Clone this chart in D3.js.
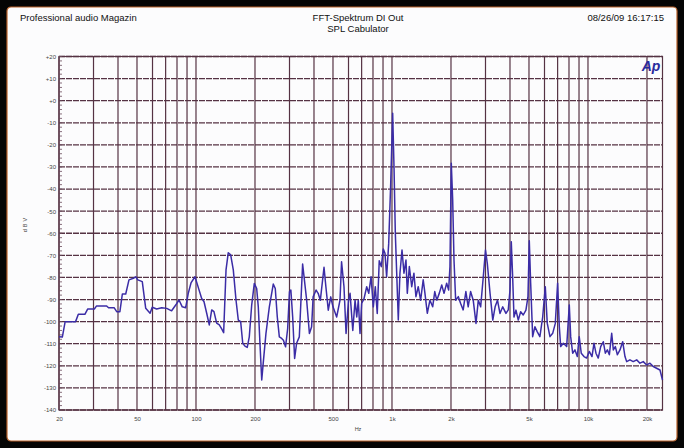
<!DOCTYPE html>
<html>
<head>
<meta charset="utf-8">
<script src="https://cdn.jsdelivr.net/npm/d3@7"></script>
<style>
  html, body { margin: 0; padding: 0; background: #050505; }
  svg { display: block; }
  text { font-family: "Liberation Sans", Arial, sans-serif; }
</style>
</head>
<body>
<div id="app"></div>
<script>
// spectrum: frequency (Hz) and level (dB)
let freqHz = [20, 20.8, 21.5, 24.3, 25.1, 27.1, 28.0, 30.3, 31.1, 35.0, 35.8, 38.2, 39.4, 40.9, 42.1, 43.8,
  45.5, 47.9, 49.2, 50.5, 53.2, 55.4, 58.3, 59.8, 63.0, 66.9, 70.9, 75.1, 78.8, 81.9, 85.1, 88.6,
  91.3, 94.3, 98.8, 102.7, 106.9, 109.9, 113.4, 116.9, 120.3, 123.5, 127.5, 131.5, 135.7, 138.4,
  142.3, 146.1, 150.3, 155.0, 160.0, 164.4, 169.0, 173.2, 177.8, 182.6, 187.0, 192.4, 198.4, 204,
  207.9, 212, 216.5, 220.3, 227.5, 236.7, 247.9, 253.8, 259.9, 266.2, 273.7, 279.3, 286.4, 293.6,
  299.9, 304.8, 311.4, 318.6, 326.1, 336.6, 350, 367, 379, 389, 396, 410, 420, 431, 450, 460, 473,
  487, 500, 522, 543, 553, 569, 583, 600, 611, 631, 648, 661, 673, 687, 700, 720, 743, 761, 782,
  803, 822, 841, 861, 882, 903, 921, 939, 962, 985, 1008, 1024, 1040, 1057, 1077, 1098, 1125, 1151,
  1179, 1197, 1226, 1261, 1294, 1325, 1361, 1400, 1443, 1473, 1514, 1562, 1613, 1653, 1693, 1744,
  1794, 1843, 1901, 1946, 1976, 2007, 2040, 2072, 2113, 2180, 2238, 2308, 2382, 2448, 2518, 2597,
  2683, 2757, 2834, 2923, 3000, 3064, 3165, 3268, 3359, 3453, 3556, 3673, 3815, 3920, 4000, 4061,
  4127, 4192, 4291, 4409, 4534, 4674, 4824, 4941, 5018, 5100, 5221, 5363, 5505, 5683, 5874, 6056,
  6198, 6399, 6606, 6812, 7000, 7141, 7257, 7485, 7785, 8028, 8160, 8355, 8582, 8822, 9021, 9241,
  9541, 9848, 10154, 10481, 10731, 10984, 11282, 11610, 11971, 12260, 12555, 12857, 13213, 13469,
  13793, 14124, 14561, 15033, 15446, 15753, 16370, 17020, 17722, 18423, 19140, 19930, 20718, 21537,
  22392, 23300, 24000];

let levelDb = [-106.8, -107, -100, -100, -96.7, -96.7, -94.3, -94.3, -92.9, -92.9, -93.7, -93.7, -95.5, -95.5, -87.5, -87.5,
  -81.1, -80.4, -79.7, -81.1, -81.9, -94.0, -96.2, -93.5, -94.3, -93.7, -94.0, -95.1, -92.5, -90.2, -93.3, -93.7,
  -87.2, -82.5, -79.7, -84.5, -89.5, -91.0, -96.2, -101.5, -94.7, -95.5, -100.7, -101.5, -103.5, -105.0,
  -76.6, -68.8, -69.8, -76.6, -90.2, -99.3, -100, -109.8, -111.1, -111.7, -106.9, -92.5, -82.7, -85.0,
  -93.3, -109.8, -126.4, -118.8, -105.3, -93.3, -83.0, -85.0, -97.9, -106.9, -107.6, -108.4, -111.4, -103.1,
  -86.5, -85.7, -97.9, -116.7, -109.8, -106.9, -73.9, -90.3, -105.4, -102.3, -88.8, -85.7, -87.2, -90.3, -75.4, -84.2, -94.8,
  -88.8, -93.3, -97.9, -90.3, -72.9, -84.2, -105.4, -90.3, -87.2, -104.0, -90.3, -97.9, -90.3, -105.4, -91.8, -89.6, -84.2, -87.2, -79.7,
  -93.3, -84.2, -96.3, -72.4, -75.1, -67.1, -69.1, -79.7, -64.7, -37.6, -5.7, -29.9, -60, -78.1, -99.3, -78.1, -67.6, -78.1,
  -72.1, -87.2, -75.1, -84.2, -78.1, -88.7, -84.2, -90.3, -81.1, -87.2, -96.2, -90.3, -93.3, -86.4, -90.3, -87.1,
  -83.4, -87.2, -82.6, -85.7, -75.1, -28.3, -44.9, -72.1, -90.3, -88.7, -91.7, -94.7, -86.4, -93.3, -86.4, -90.3,
  -100.8, -90.3, -93.3, -79.7, -67.6, -73.6, -87.2, -99.3, -93.3, -90.3, -96.3, -93.3, -96.3, -94.7, -85.7, -63.8,
  -79.7, -97.9, -94.8, -99.3, -95.5, -97, -94.8, -88.7, -63.4, -82.6, -106.8, -102.3, -104.5, -106.8, -97.9, -84.2,
  -100.8, -106.8, -105.3, -100.8, -82.6, -102.3, -111.3, -109.8, -111.3, -92.5, -106.8, -114.3, -112.8, -115.8, -106.8, -114.3,
  -115.8, -116.5, -113.5, -115.8, -109.8, -114.3, -116.5, -111.3, -109.1, -114.3, -112.8, -115, -105.3, -112.8,
  -111.3, -115, -112.8, -109.1, -115.8, -118.1, -117.3, -118.1, -117.3, -118.8, -118.1, -119.6, -118.8, -120.3,
  -121.1, -121.9, -126.4];

let yTickValues = [20, 10, 0, -10, -20, -30, -40, -50, -60, -70, -80, -90, -100, -110, -120, -130, -140];
let yTickLabels = ['+20', '+10', '+0', '-10', '-20', '-30', '-40', '-50', '-60', '-70', '-80', '-90', '-100', '-110', '-120', '-130', '-140'];
let xTickValues = [20, 50, 100, 200, 500, 1000, 2000, 5000, 10000, 20000];
let xTickLabels = ['20', '50', '100', '200', '500', '1k', '2k', '5k', '10k', '20k'];

let W = 684, H = 448;
let margin = { top: 56.5, right: 21.5, bottom: 38, left: 59 };
let width = W - margin.left - margin.right;
let height = H - margin.top - margin.bottom;

let xScale = d3.scaleLog().domain([20, 24000]).range([0, width]);
let yScale = d3.scaleLinear().domain([-140, 20]).range([height, 0]);

let svg = d3.select('#app').append('svg')
  .attr('width', W)
  .attr('height', H);

// photographed paper on a dark screen
svg.append('rect')
  .attr('x', 7).attr('y', 7)
  .attr('width', 670).attr('height', 434)
  .attr('rx', 4)
  .style('fill', '#fcfcfd')
  .style('stroke', '#b8612a')
  .style('stroke-width', 1.2);

// header texts
svg.append('text').attr('x', 20).attr('y', 21)
  .style('font-size', '9.5px').style('fill', '#111')
  .text('Professional audio Magazin');
svg.append('text').attr('x', 358).attr('y', 21).attr('text-anchor', 'middle')
  .style('font-size', '9.5px').style('fill', '#111')
  .text('FFT-Spektrum DI Out');
svg.append('text').attr('x', 358).attr('y', 32).attr('text-anchor', 'middle')
  .style('font-size', '9.5px').style('fill', '#111')
  .text('SPL Cabulator');
svg.append('text').attr('x', 664).attr('y', 21).attr('text-anchor', 'end')
  .style('font-size', '9.5px').style('fill', '#111')
  .text('08/26/09 16:17:15');

let chart = svg.append('g')
  .attr('transform', `translate(${margin.left}, ${margin.top})`);

let gridColor = '#553243';

// vertical grid
chart.append('g')
  .selectAll('line')
  .data(xScale.ticks())
  .enter()
  .append('line')
    .attr('x1', d => xScale(d)).attr('x2', d => xScale(d))
    .attr('y1', 0).attr('y2', height)
    .style('stroke', gridColor)
    .style('stroke-width', 1.2);

// horizontal grid
chart.append('g')
  .selectAll('line')
  .data(yTickValues)
  .enter()
  .append('line')
    .attr('x1', 0).attr('x2', width)
    .attr('y1', d => yScale(d)).attr('y2', d => yScale(d))
    .style('stroke', gridColor)
    .style('stroke-width', 1.3)
    .style('stroke-dasharray', '6,1');

// frame
chart.append('rect')
  .attr('width', width).attr('height', height)
  .style('fill', 'none')
  .style('stroke', gridColor)
  .style('stroke-width', 1.2);

// minor ticks on the left edge, every 2 dB
chart.append('g')
  .selectAll('line')
  .data(d3.range(-140, 21, 2))
  .enter()
  .append('line')
    .attr('x1', 0).attr('x2', 3)
    .attr('y1', d => yScale(d)).attr('y2', d => yScale(d))
    .style('stroke', '#6a4a5a')
    .style('stroke-width', 0.8);

// V axis labels
let vAxis = d3.axisLeft(yScale)
  .tickValues(yTickValues)
  .tickFormat((d, i) => yTickLabels[i])
  .tickSize(0)
  .tickPadding(3);
let vGuide = chart.append('g').call(vAxis);
vGuide.select('.domain').remove();
vGuide.selectAll('text')
  .style('font-size', '6px')
  .style('fill', '#444')
  .style('font-family', '"Liberation Sans", Arial, sans-serif');

// H axis labels
let hAxis = d3.axisBottom(xScale)
  .tickValues(xTickValues)
  .tickFormat((d, i) => xTickLabels[i])
  .tickSize(0)
  .tickPadding(7);
let hGuide = chart.append('g')
  .attr('transform', `translate(0, ${height})`)
  .call(hAxis);
hGuide.select('.domain').remove();
hGuide.selectAll('text')
  .style('font-size', '6px')
  .style('fill', '#444')
  .style('font-family', '"Liberation Sans", Arial, sans-serif');

// axis titles
svg.append('text').attr('x', 358).attr('y', 431).attr('text-anchor', 'middle')
  .style('font-size', '5.5px').style('fill', '#444')
  .text('Hz');
svg.append('text')
  .attr('transform', 'translate(27, 224) rotate(-90)')
  .attr('text-anchor', 'middle')
  .style('font-size', '5.5px').style('fill', '#444')
  .style('letter-spacing', '2px')
  .text('dBV');

// Ap logo
svg.append('text').attr('x', 651).attr('y', 71).attr('text-anchor', 'middle')
  .style('font-size', '14px').style('font-weight', 'bold').style('font-style', 'italic')
  .style('fill', '#2a2a9c')
  .text('Ap');

// spectrum trace
let line = d3.line()
  .x((d, i) => xScale(freqHz[i]))
  .y(d => yScale(d));

chart.append('path')
  .datum(levelDb)
  .attr('d', line)
  .style('fill', 'none')
  .style('stroke', '#3b2ca6')
  .style('stroke-width', 1.5)
  .style('stroke-linejoin', 'round');
</script>
</body>
</html>
